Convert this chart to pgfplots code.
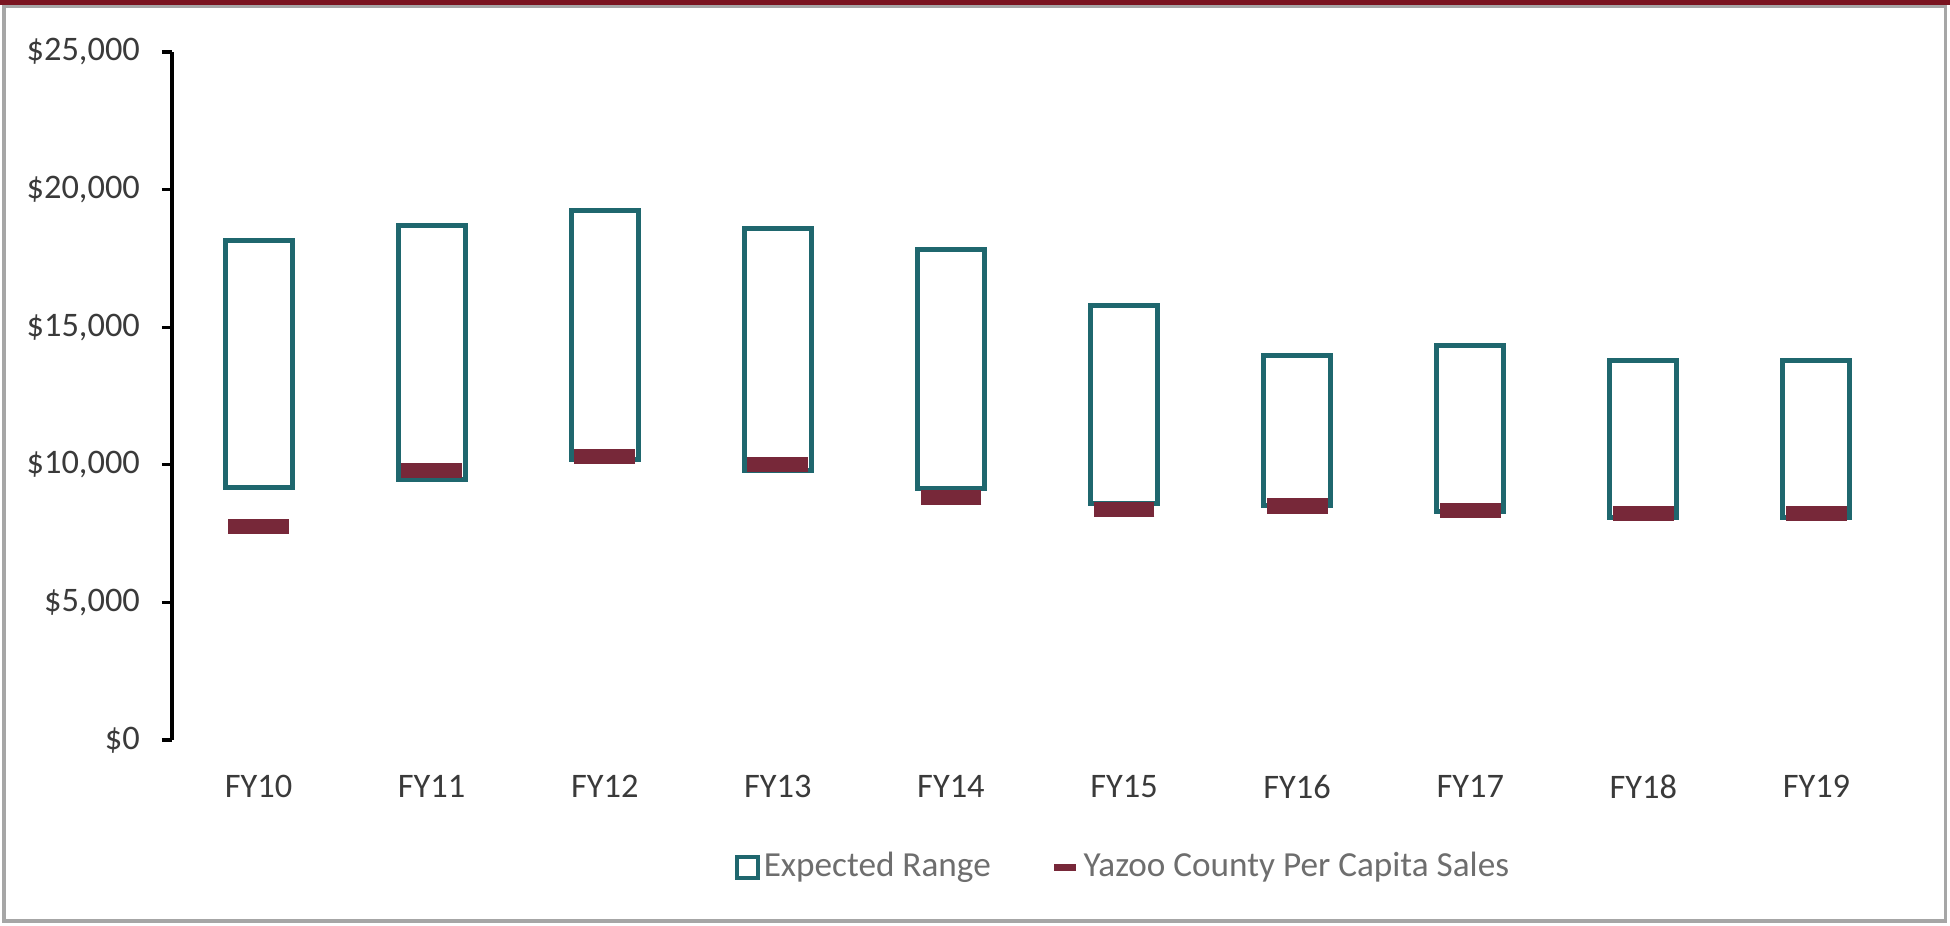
\documentclass[border=0pt]{standalone}
\usepackage{pgfplots}
\pgfplotsset{compat=1.18}
\usepackage{pgfplotstable}
\usepackage{fontspec}
\setmainfont{Carlito}
\definecolor{rangecol}{HTML}{1F676E}
\definecolor{salescol}{HTML}{772839}
\definecolor{framecol}{HTML}{A6A6A6}
\definecolor{topred}{HTML}{7A1420}
\definecolor{ticktext}{HTML}{3A3A3A}
\definecolor{legtext}{HTML}{6E6E6E}

\pgfplotstableread{
x low high sales
0 9190 18150 7750
1 9480 18700 9790
2 10200 19240 10300
3 9800 18570 10010
4 9130 17820 8800
5 8590 15800 8380
6 8520 13980 8500
7 8320 14320 8350
8 8070 13780 8230
9 8070 13780 8230
}\data

\begin{document}
\begin{tikzpicture}
\useasboundingbox (0,0) rectangle (487.5pt,231.25pt);
\fill[white] (0,0) rectangle (487.5pt,231.25pt);
\pgfplotsset{base/.style={scale only axis, width=432.75pt, height=172pt,
  at={(43pt,46.25pt)}, anchor=south west,
  xmin=-0.5, xmax=9.5, ymin=0, ymax=25000}}
\begin{axis}[base,
  ybar stacked, bar width=16.75pt,
  axis lines*=left,
  x axis line style={draw=none},
  y axis line style={line width=0.8pt, black},
  xtick={0,...,9},
  xticklabels={FY10,FY11,FY12,FY13,FY14,FY15,FY16,FY17,FY18,FY19},
  xtick style={draw=none},
  ytick={0,5000,10000,15000,20000,25000},
  scaled y ticks=false,
  yticklabels={{\$0},{\$5,000},{\$10,000},{\$15,000},{\$20,000},{\$25,000}},
  ytick style={line width=0.8pt, black},
  tick align=outside, major tick length=2.5pt,
  ticklabel style={font=\fontsize{8.6}{10}\selectfont, text=ticktext},
  xticklabel style={yshift=-2.8pt},
  yticklabel style={xshift=-2pt},
]
\addplot[draw=none, fill=none, forget plot] table[x=x, y=low] {\data};
\addplot[draw=rangecol, fill=white, line width=1.25pt, forget plot]
  table[x=x, y expr=\thisrow{high}-\thisrow{low}] {\data};
\end{axis}
\begin{axis}[base, axis lines=none,
  legend columns=2,
  legend style={draw=none, fill=none, at={(0.55,-0.185)}, anchor=center,
    font=\fontsize{8.8}{10}\selectfont, text=legtext,
    /tikz/every even column/.append style={column sep=14pt},
    nodes={inner sep=1pt}},
]
\addlegendimage{legend image code/.code={\draw[rangecol, line width=1pt, fill=white] (1pt,-2.6pt) rectangle (6.2pt,2.6pt);}}
\addlegendentry{Expected Range}
\addplot[only marks, mark=-, mark size=7.6pt, color=salescol,
  mark options={line width=3.8pt},
  legend image code/.code={\draw[salescol, line width=1.7pt] (1pt,0pt) -- (6.5pt,0pt);}]
  table[x=x, y=sales] {\data};
\addlegendentry{Yazoo County Per Capita Sales}
\end{axis}
\draw[framecol, line width=0.9pt] (1pt,1pt) -- (1pt,229.6pt) -- (486.4pt,229.6pt) -- (486.4pt,1pt) -- cycle;
\fill[topred] (0,230.1pt) rectangle (487.5pt,231.25pt);
\end{tikzpicture}
\end{document}
